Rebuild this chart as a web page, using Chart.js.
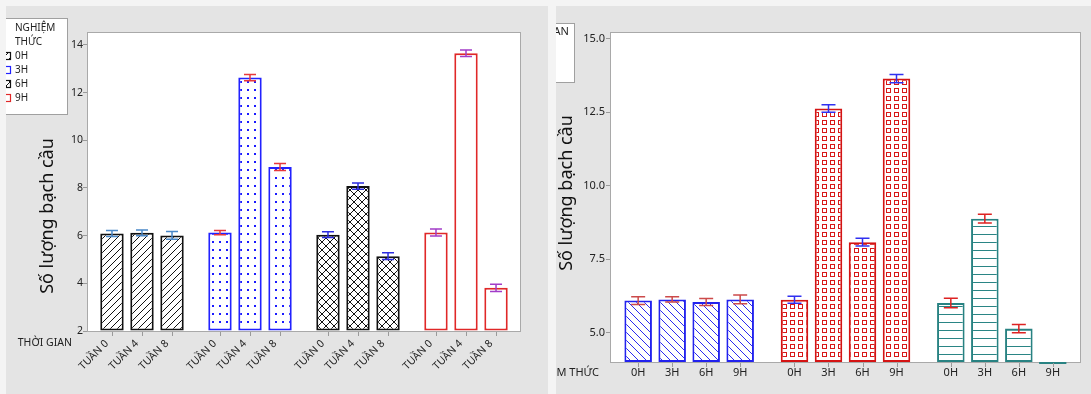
<!DOCTYPE html>
<html>
<head>
<meta charset="utf-8">
<script src="https://cdn.jsdelivr.net/npm/chart.js@4.4.1/dist/chart.umd.min.js"></script>
<style>
body { margin: 0; background: #f4f4f4; width: 1091px; height: 394px; overflow: hidden; position: relative; font-family: "Noto Sans", sans-serif; }
.panel { position: absolute; top: 6px; height: 388px; background: #e4e4e4; overflow: hidden; }
#p1 { left: 6px; width: 542px; }
#p2 { left: 556px; width: 535px; }
canvas { display: block; }
</style>
</head>
<body>
<div class="panel" id="p1"><canvas id="c1" width="542" height="388"></canvas></div>
<div class="panel" id="p2"><canvas id="c2" width="535" height="388"></canvas></div>
<script>
// nghiệm thức và thời gian
const treatments = ['0H', '3H', '6H', '9H'];
const weeks = ['TUẦN 0', 'TUẦN 4', 'TUẦN 8'];

// số lượng bạch cầu trung bình theo tuần 0, 4, 8
const mean0H = [6.09, 6.12, 6.01];
const mean3H = [6.13, 12.63, 8.88];
const mean6H = [6.04, 8.08, 5.14];
const mean9H = [6.13, 13.65, 3.81];

// sai số
const err0H = [0.13, 0.12, 0.16];
const err3H = [0.09, 0.13, 0.15];
const err6H = [0.12, 0.13, 0.14];
const err9H = [0.15, 0.14, 0.15];

const leftTicks = [2, 4, 6, 8, 10, 12, 14];
const rightTicks = [5.0, 7.5, 10.0, 12.5, 15.0];

const means = [mean0H, mean3H, mean6H, mean9H];
const errs = [err0H, err3H, err6H, err9H];

const FONT = '"Noto Sans", sans-serif';
const TXT = '#222';

// họa tiết
function pattern(ctx, w, h, draw) {
    const c = document.createElement('canvas');
    c.width = w; c.height = h;
    const g = c.getContext('2d');
    g.fillStyle = '#fff';
    g.fillRect(0, 0, w, h);
    draw(g);
    return ctx.createPattern(c, 'repeat');
}
function diag(g, s, color, back) {
    g.strokeStyle = color; g.lineWidth = 1;
    g.beginPath();
    for (let k = -1; k <= 1; k++) {
        if (back) { g.moveTo(k * s, 0); g.lineTo(k * s + s, s); }
        else { g.moveTo(k * s, s); g.lineTo(k * s + s, 0); }
    }
    g.stroke();
}

const ctx1 = document.getElementById('c1').getContext('2d');
const ctx2 = document.getElementById('c2').getContext('2d');

const leftFill = [
    pattern(ctx1, 7, 7, g => diag(g, 7, '#111', false)),
    pattern(ctx1, 7, 8, g => { g.fillStyle = '#1a1aff'; g.fillRect(3, 3, 2, 2); }),
    pattern(ctx1, 8, 8, g => { diag(g, 8, '#111', false); diag(g, 8, '#111', true); }),
    '#ffffff'
];
const leftBorder = ['#111111', '#2222ff', '#111111', '#e02828'];
const leftErr = ['#4a88c8', '#e8383c', '#2c2ce0', '#a23cc8'];

const rightFill = [
    pattern(ctx2, 8, 8, g => diag(g, 8, '#2a2af0', true)),
    pattern(ctx2, 8, 8, g => { g.strokeStyle = '#d81818'; g.lineWidth = 1; g.strokeRect(2.5, 2.5, 4, 4); }),
    pattern(ctx2, 4, 8, g => { g.fillStyle = '#2a8585'; g.fillRect(0, 4, 4, 1); })
];
const rightBorder = ['#2222ee', '#d41414', '#288282'];
const rightErr = ['#cc4a4a', '#3030f0', '#dd2222'];

function panelPlugin(cfg) {
    return {
        id: 'panel',
        beforeDatasetsDraw(chart) {
            const { ctx, chartArea: a } = chart;
            ctx.save();
            ctx.fillStyle = '#fff';
            ctx.fillRect(a.left, a.top, a.right - a.left, a.bottom - a.top);
            ctx.strokeStyle = '#a9a9a9';
            ctx.lineWidth = 1;
            ctx.strokeRect(a.left - 0.5, a.top - 0.5, a.right - a.left + 1, a.bottom - a.top + 1);
            ctx.restore();
        },
        afterDatasetsDraw(chart) {
            const { ctx, chartArea: a } = chart;
            const y = chart.scales.y;
            ctx.save();
            // thanh sai số
            ctx.beginPath();
            ctx.rect(a.left, a.top, a.right - a.left, a.bottom - a.top);
            ctx.clip();
            chart.data.datasets.forEach((ds, d) => {
                chart.getDatasetMeta(d).data.forEach((el, i) => {
                    const v = ds.data[i], e = ds.err[i];
                    const y1 = y.getPixelForValue(v + e), y2 = y.getPixelForValue(v - e);
                    ctx.strokeStyle = cfg.errColor(d, i);
                    ctx.lineWidth = 1.5;
                    ctx.beginPath();
                    ctx.moveTo(el.x, y1); ctx.lineTo(el.x, y2);
                    ctx.moveTo(el.x - cfg.cap, y1); ctx.lineTo(el.x + cfg.cap, y1);
                    ctx.moveTo(el.x - cfg.cap, y2); ctx.lineTo(el.x + cfg.cap, y2);
                    ctx.stroke();
                });
            });
            ctx.restore();

            ctx.save();
            // vạch chia và nhãn trục x
            ctx.fillStyle = TXT;
            ctx.font = cfg.xFont;
            chart.data.datasets.forEach((ds, d) => {
                chart.getDatasetMeta(d).data.forEach((el, i) => {
                    const x = Math.round(el.x) + 0.5;
                    ctx.strokeStyle = '#9a9a9a';
                    ctx.lineWidth = 1;
                    ctx.beginPath();
                    ctx.moveTo(x, a.bottom + 1); ctx.lineTo(x, a.bottom + 5);
                    ctx.stroke();
                    const label = cfg.barLabel(d, i);
                    if (cfg.rotate) {
                        ctx.save();
                        ctx.translate(el.x + cfg.lx, a.bottom + cfg.ly);
                        ctx.rotate(-Math.PI / 4);
                        ctx.textAlign = 'right';
                        ctx.textBaseline = 'middle';
                        ctx.fillText(label, 0, 0);
                        ctx.restore();
                    } else {
                        ctx.textAlign = 'center';
                        ctx.textBaseline = 'middle';
                        ctx.fillText(label, el.x, a.bottom + cfg.ly);
                    }
                });
            });

            // tên trục x
            ctx.textAlign = 'right';
            ctx.textBaseline = 'middle';
            ctx.font = cfg.axisFont;
            ctx.fillText(cfg.xTitle, cfg.xTitleX, cfg.xTitleY);

            // tên trục y
            ctx.save();
            ctx.translate(cfg.yTitleX, cfg.yTitleY);
            ctx.rotate(-Math.PI / 2);
            ctx.textAlign = 'center';
            ctx.textBaseline = 'middle';
            ctx.font = '18px ' + FONT;
            ctx.fillStyle = '#111';
            ctx.fillText('Số lượng bạch cầu', 0, 0);
            ctx.restore();

            // chú thích
            const L = cfg.legend;
            ctx.fillStyle = '#fff';
            ctx.fillRect(L.x0, L.y0, L.x1 - L.x0, L.y1 - L.y0);
            ctx.strokeStyle = '#a0a0a0';
            ctx.strokeRect(L.x0 + 0.5, L.y0 + 0.5, L.x1 - L.x0 - 1, L.y1 - L.y0 - 1);
            ctx.font = cfg.legendFont;
            ctx.textAlign = 'left';
            ctx.textBaseline = 'middle';
            let ly = L.top;
            L.title.forEach(t => {
                ctx.fillStyle = TXT;
                ctx.fillText(t, L.textX, ly);
                ly += L.step;
            });
            L.items.forEach((it, k) => {
                ctx.fillStyle = L.fills[k];
                ctx.fillRect(L.swX, ly - 4, 10, 8);
                ctx.strokeStyle = L.borders[k];
                ctx.lineWidth = 1.2;
                ctx.strokeRect(L.swX + 0.5, ly - 3.5, 9, 7);
                ctx.fillStyle = TXT;
                ctx.fillText(it, L.textX, ly);
                ly += L.step;
            });
            ctx.restore();
        }
    };
}

// biểu đồ trái: nhóm theo nghiệm thức
new Chart(ctx1, {
    type: 'bar',
    data: {
        labels: treatments,
        datasets: weeks.map((w, wi) => ({
            label: w,
            data: means.map(m => m[wi]),
            err: errs.map(e => e[wi]),
            base: 2,
            backgroundColor: leftFill,
            borderColor: leftBorder,
            borderWidth: 2,
            borderSkipped: false,
            categoryPercentage: 0.834,
            barPercentage: 0.78
        }))
    },
    options: {
        responsive: false,
        animation: false,
        layout: { padding: { left: 0, right: 28, top: 27, bottom: 63 } },
        plugins: { legend: { display: false }, tooltip: { enabled: false } },
        scales: {
            x: { display: false },
            y: {
                min: 2, max: 14.5,
                afterFit: s => { s.width = 82; },
                afterBuildTicks: s => { s.ticks = leftTicks.map(v => ({ value: v })); },
                border: { display: false },
                grid: { drawOnChartArea: false, tickLength: 5, color: '#9a9a9a' },
                ticks: { color: TXT, padding: 0, font: { size: 10.5, family: FONT } }
            }
        }
    },
    plugins: [panelPlugin({
        cap: 6,
        errColor: (d, i) => leftErr[i],
        barLabel: (d, i) => weeks[d],
        rotate: true, lx: -5, ly: 11,
        xFont: '10.5px ' + FONT,
        axisFont: '10.5px ' + FONT,
        xTitle: 'THỜI GIAN', xTitleX: 66, xTitleY: 337,
        yTitleX: 42, yTitleY: 210,
        legendFont: '10px ' + FONT,
        legend: {
            x0: -30, x1: 62, y0: 12, y1: 109, top: 22, step: 14, textX: 9, swX: -5,
            title: ['NGHIỆM', 'THỨC'], items: treatments, fills: leftFill, borders: leftBorder
        }
    })]
});

// biểu đồ phải: nhóm theo thời gian
new Chart(ctx2, {
    type: 'bar',
    data: {
        labels: weeks,
        datasets: treatments.map((t, ti) => ({
            label: t,
            data: means[ti],
            err: errs[ti],
            base: 4,
            backgroundColor: rightFill,
            borderColor: rightBorder,
            borderWidth: 2,
            borderSkipped: false,
            clip: { left: 0, top: 0, right: 0, bottom: 2 },
            categoryPercentage: 0.87,
            barPercentage: 0.81
        }))
    },
    options: {
        responsive: false,
        animation: false,
        layout: { padding: { left: 0, right: 11, top: 27, bottom: 32 } },
        plugins: { legend: { display: false }, tooltip: { enabled: false } },
        scales: {
            x: { display: false },
            y: {
                min: 4, max: 15.2,
                afterFit: s => { s.width = 55; },
                afterBuildTicks: s => { s.ticks = rightTicks.map(v => ({ value: v })); },
                border: { display: false },
                grid: { drawOnChartArea: false, tickLength: 5, color: '#9a9a9a' },
                ticks: { color: TXT, padding: 1, font: { size: 11, family: FONT }, callback: v => Number(v).toFixed(1) }
            }
        }
    },
    plugins: [panelPlugin({
        cap: 7,
        errColor: (d, i) => rightErr[i],
        barLabel: (d, i) => treatments[d],
        rotate: false, ly: 11,
        xFont: '11px ' + FONT,
        axisFont: '11px ' + FONT,
        xTitle: 'NGHIỆM THỨC', xTitleX: 43, xTitleY: 367,
        yTitleX: 11, yTitleY: 187,
        legendFont: '11px ' + FONT,
        legend: {
            x0: -80, x1: 19, y0: 17, y1: 77, top: 26, step: 14, textX: -44, swX: -58,
            title: ['THỜI GIAN'], items: weeks, fills: rightFill, borders: rightBorder
        }
    })]
});
</script>
</body>
</html>
